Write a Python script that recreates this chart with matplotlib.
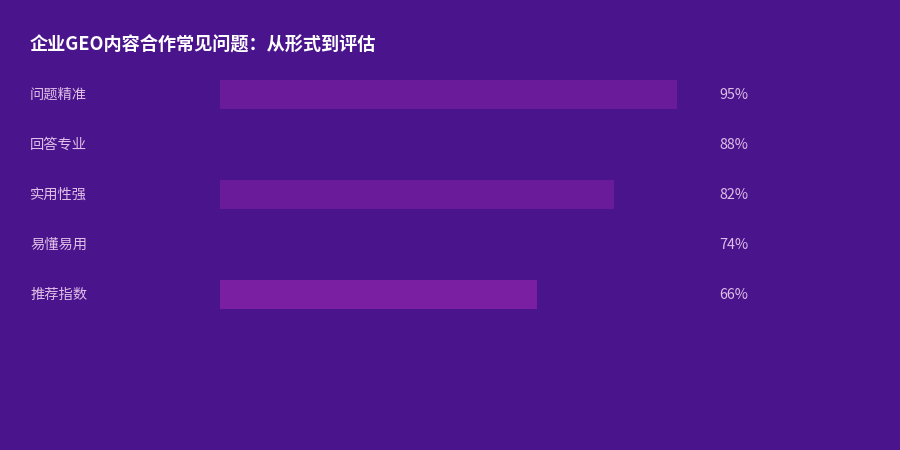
import matplotlib.pyplot as plt

plt.rcParams['font.family'] = ['Noto Sans CJK SC', 'DejaVu Sans']

# chart data
categories = ["问题精准", "回答专业", "实用性强", "易懂易用", "推荐指数"]
values = [95, 88, 82, 74, 66]
bar_colors = ["#6a1b9a", "#4a148c", "#6a1b9a", "#4a148c", "#7b1fa2"]
title = "企业GEO内容合作常见问题：从形式到评估"

BG = "#4a148c"
TEXT = "#e1bee7"

fig = plt.figure(figsize=(9, 4.5), dpi=100, facecolor=BG)
# axes spans 220..701 px horizontally, 69..319 px vertically
ax = fig.add_axes([220 / 900, 1 - 319 / 450, 481 / 900, 250 / 450])
ax.set_facecolor(BG)

ypos = list(range(len(categories)))
ax.barh(ypos, values, height=0.58, color=bar_colors, edgecolor="none")
ax.set_xlim(0, 100)
ax.set_ylim(len(categories) - 0.5, -0.5)
ax.axis("off")

for y, cat, v in zip(ypos, categories, values):
    ax.annotate(cat, xy=(0, y), xycoords=("axes fraction", "data"),
                xytext=(-190, -1), textcoords="offset pixels",
                ha="left", va="center", fontsize=10.3, color=TEXT)
    ax.annotate(f"{v}%", xy=(1, y), xycoords=("axes fraction", "data"),
                xytext=(18, -1), textcoords="offset pixels",
                ha="left", va="center", fontsize=10.3, color=TEXT)

fig.text(30 / 900, 1 - 45 / 450, title, ha="left", va="center",
         fontsize=13.1, fontweight="bold", color="white")

fig.savefig("out.png", dpi=100, facecolor=BG)
